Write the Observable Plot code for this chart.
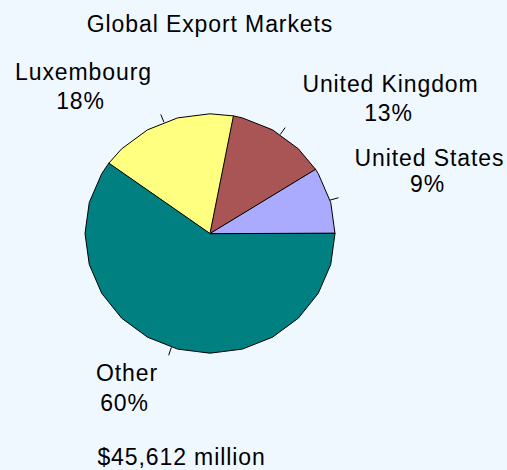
<!DOCTYPE html>
<html>
<head>
<meta charset="utf-8">
<script src="https://cdn.jsdelivr.net/npm/d3@7"></script>
<script src="https://cdn.jsdelivr.net/npm/@observablehq/plot@0.6"></script>
<style>
  html, body { margin: 0; padding: 0; background: #F0F8FF; }
  #chart svg { display: block; }
</style>
</head>
<body>
<div id="chart"></div>
<script>
// ---- data ----
const title = "Global Export Markets";
const caption = "$45,612 million";
const markets = ["United States", "United Kingdom", "Luxembourg", "Other"];
const shares = [9, 13, 18, 60]; // percent
const colors = ["#AAAAFF", "#AA5555", "#FFFF80", "#008080"];

// ---- layout (in pie radius units) ----
const namePos = [[1.756, 0.568], [1.444, 1.180], [-1.012, 1.284], [-0.664, -1.234]];
const pctPos  = [[1.740, 0.345], [1.428, 0.936], [-1.036, 1.042], [-0.684, -1.479]];
const titlePos = [0, 1.682];
const captionPos = [-0.228, -1.938];

// ---- build slices ----
const total = d3.sum(shares);
const step = Math.PI / 12; // polygonal outline like the original
let acc = 0;
const slices = markets.map((m, i) => {
  const a0 = acc / total * 2 * Math.PI;
  acc += shares[i];
  const a1 = acc / total * 2 * Math.PI;
  const angles = [a0];
  for (let k = Math.floor(a0 / step) + 1; k * step < a1 - 1e-9; k++) angles.push(k * step);
  angles.push(a1);
  const pts = [{x: 0, y: 0}, ...angles.map(a => ({x: Math.cos(a), y: Math.sin(a)}))];
  const mid = (a0 + a1) / 2;
  return {market: m, share: shares[i], color: colors[i], pts, mid};
});

const ticks = slices.map(s => ({
  x1: Math.cos(s.mid), y1: Math.sin(s.mid),
  x2: 1.07 * Math.cos(s.mid), y2: 1.07 * Math.sin(s.mid)
}));

const names = slices.map((s, i) => ({x: namePos[i][0], y: namePos[i][1], t: s.market}));
const pcts = slices.map((s, i) => ({x: pctPos[i][0], y: pctPos[i][1], t: s.share + "%"}));

const FS = 23;
const chart = Plot.plot({
  width: 507,
  height: 470,
  margin: 0,
  x: {domain: [-1, 1], range: [84.5, 334.5], axis: null},
  y: {domain: [-1, 1], range: [352.7, 113.3], axis: null},
  style: {
    background: "#F0F8FF",
    fontFamily: "'Liberation Sans', Arial, sans-serif",
    letterSpacing: "0.9px",
    color: "#000"
  },
  marks: [
    ...slices.map(s => Plot.line(s.pts, {
      x: "x", y: "y", fill: s.color, stroke: "#000", strokeWidth: 1,
      curve: "linear-closed", strokeLinejoin: "round"
    })),
    Plot.link(ticks, {x1: "x1", y1: "y1", x2: "x2", y2: "y2", stroke: "#000", strokeWidth: 1}),
    Plot.text(names, {x: "x", y: "y", text: "t", fontSize: FS, lineAnchor: "bottom", fill: "#000"}),
    Plot.text(pcts, {x: "x", y: "y", text: "t", fontSize: FS, lineAnchor: "bottom", fill: "#000"}),
    Plot.text([title], {x: () => titlePos[0], y: () => titlePos[1], text: d => d, fontSize: FS, lineAnchor: "bottom", fill: "#000"}),
    Plot.text([caption], {x: () => captionPos[0], y: () => captionPos[1], text: d => d, fontSize: FS, lineAnchor: "bottom", fill: "#000"})
  ]
});
document.getElementById("chart").appendChild(chart);
</script>
</body>
</html>
